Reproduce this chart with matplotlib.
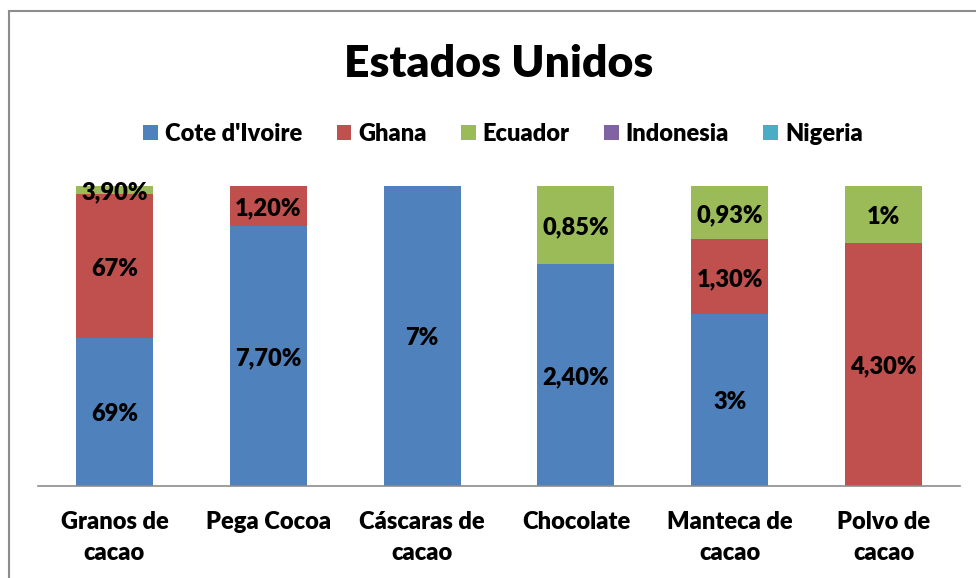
import matplotlib.pyplot as plt
import numpy as np
from matplotlib.lines import Line2D

plt.rcParams['font.family'] = ['Lato', 'DejaVu Sans']

categories = ['Granos de\ncacao', 'Pega Cocoa', 'Cáscaras de\ncacao', 'Chocolate',
              'Manteca de\ncacao', 'Polvo de\ncacao']
series = ["Cote d'Ivoire", 'Ghana', 'Ecuador', 'Indonesia', 'Nigeria']
cote = [69, 7.70, 7, 2.40, 3, 0]
ghana = [67, 1.20, 0, 0, 1.30, 4.30]
ecuador = [3.90, 0, 0, 0.85, 0.93, 1]
indonesia = [0, 0, 0, 0, 0, 0]
nigeria = [0, 0, 0, 0, 0, 0]
colors = ['#4F81BD', '#C0504D', '#9BBB59', '#8064A2', '#4BACC6']


def fmt(v):
    if float(v).is_integer():
        return f'{int(v)}%'
    return f'{v:.2f}%'.replace('.', ',')


data = np.array([cote, ghana, ecuador, indonesia, nigeria], dtype=float)
totals = data.sum(axis=0)
shares = data / totals

fig = plt.figure(figsize=(9.76, 5.78), dpi=100)
ax = fig.add_axes([37.5 / 976, 1 - 486 / 578, 923 / 976, 300 / 578])

x = np.arange(len(categories))
bottom = np.zeros(len(categories))
for i, name in enumerate(series):
    ax.bar(x, shares[i], 0.5, bottom=bottom, color=colors[i], label=name)
    for j in range(len(categories)):
        if data[i, j] > 0:
            ax.text(x[j], bottom[j] + shares[i, j] / 2 - 0.008, fmt(data[i, j]),
                    ha='center', va='center', fontsize=17, fontweight='heavy')
    bottom += shares[i]

ax.set_xlim(-0.5, len(categories) - 0.5)
ax.set_ylim(0, 1)
ax.set_yticks([])
for s in ['left', 'right', 'top']:
    ax.spines[s].set_visible(False)
ax.spines['bottom'].set_color('#8c8c8c')
ax.spines['bottom'].set_linewidth(1.2)
ax.set_xticks(x)
ax.set_xticklabels(categories, fontsize=17, fontweight='heavy', linespacing=1.5)
ax.tick_params(axis='x', length=0, pad=18)

fig.text(0.511, 0.889, 'Estados Unidos', ha='center', va='center',
         fontsize=32, fontweight='heavy')
fig.legend(loc='center', bbox_to_anchor=(0.5154, 1 - 134 / 578), ncol=5,
           frameon=False, prop={'size': 17, 'weight': 'heavy'},
           handlelength=0.62, handleheight=0.62, handletextpad=0.3, columnspacing=1.45)

fig.add_artist(Line2D([8.5 / 976, 8.5 / 976], [1 - 10.5 / 578, 0], transform=fig.transFigure,
                      color='#8c8c8c', lw=1.5))
fig.add_artist(Line2D([8.5 / 976, 1], [1 - 10.5 / 578, 1 - 10.5 / 578], transform=fig.transFigure,
                      color='#8c8c8c', lw=1.5))

fig.savefig('out.png', dpi=100)
